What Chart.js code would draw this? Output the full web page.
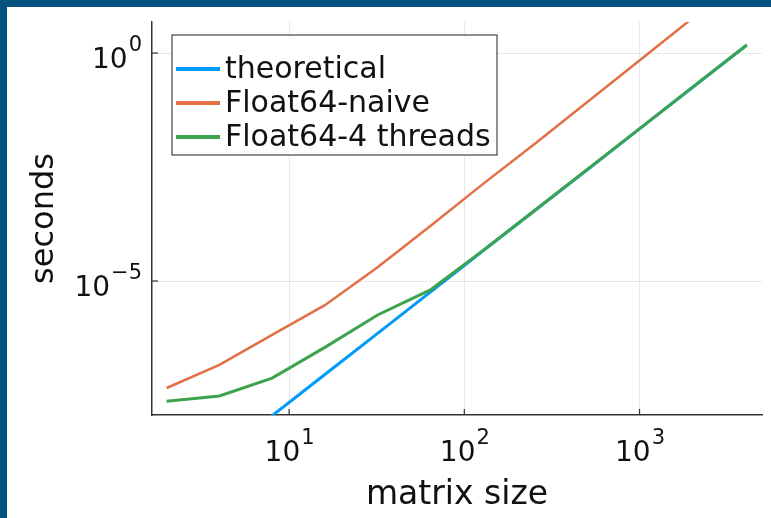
<!DOCTYPE html>
<html>
<head>
<meta charset="utf-8">
<script src="https://cdn.jsdelivr.net/npm/chart.js@4.4.0/dist/chart.umd.min.js"></script>
<style>
  html, body { margin: 0; padding: 0; background: #03517f; }
  #wrap { position: absolute; left: 7px; top: 7px; width: 764px; height: 511px; background: #fff; }
</style>
</head>
<body>
<div id="wrap"><canvas id="timingChart" width="764" height="511"></canvas></div>
<script>
// matrix sizes (n x n)
const matrixSizes = [2, 4, 8, 16, 32, 64, 128, 256, 512, 1024, 2048, 4096];
// seconds
const theoretical = [1.74e-10, 1.39e-9, 1.11e-8, 8.9e-8, 7.1e-7, 5.7e-6, 4.6e-5, 3.66e-4, 2.9e-3, 2.34e-2, 0.187, 1.5];
const float64Naive = [4.5e-8, 1.45e-7, 6.6e-7, 2.95e-6, 2.0e-5, 1.6e-4, 1.35e-3, 1.07e-2, 8.9e-2, 0.74, 6.2];
const float64Threads = [2.3e-8, 3.0e-8, 7.4e-8, 3.5e-7, 1.8e-6, 6.4e-6, 4.7e-5, 3.7e-4, 2.95e-3, 2.35e-2, 0.19, 1.5];
const seriesNames = ['theoretical', 'Float64-naive', 'Float64-4 threads'];
const xTicks = [10, 100, 1000];
const yTicks = [1e-5, 1];

const FONT = "'DejaVu Sans', sans-serif";

function exponentOf(v) {
    return String(Math.round(Math.log10(v))).replace('-', '\u2212');
}

function toPoints(values) {
    return values.map((v, i) => ({ x: matrixSizes[i], y: v }));
}

// draws "10" with a raised exponent; anchor is 'center' or 'right'
function drawPower(ctx, v, x, baseY, anchor) {
    const base = '10', exp = exponentOf(v);
    ctx.font = '28px ' + FONT;
    const wb = ctx.measureText(base).width;
    ctx.font = '21px ' + FONT;
    const we = ctx.measureText(exp).width;
    const start = anchor === 'center' ? x - (wb + we) / 2 : x - wb - we;
    ctx.font = '28px ' + FONT;
    ctx.fillText(base, start, baseY);
    ctx.font = '21px ' + FONT;
    ctx.fillText(exp, start + wb + 1, baseY - 17);
}

// tick marks pointing into the plot, plus the power-of-ten labels
const logTicks = {
    id: 'logTicks',
    beforeDatasetsDraw(chart) {
        const { ctx, chartArea, scales } = chart;
        ctx.save();
        ctx.strokeStyle = '#333';
        ctx.lineWidth = 1.2;
        ctx.fillStyle = '#111';
        ctx.textBaseline = 'alphabetic';
        ctx.textAlign = 'left';
        xTicks.forEach(v => {
            const x = scales.x.getPixelForValue(v);
            ctx.beginPath();
            ctx.moveTo(x, chartArea.bottom);
            ctx.lineTo(x, chartArea.bottom - 6);
            ctx.stroke();
            drawPower(ctx, v, x, chartArea.bottom + 46, 'center');
        });
        yTicks.forEach(v => {
            const y = scales.y.getPixelForValue(v);
            ctx.beginPath();
            ctx.moveTo(chartArea.left, y);
            ctx.lineTo(chartArea.left + 6, y);
            ctx.stroke();
            drawPower(ctx, v, chartArea.left - 11, y + 15, 'right');
        });
        ctx.restore();
    }
};

// legend box inside the plot, top left
const boxLegend = {
    id: 'boxLegend',
    afterDraw(chart) {
        const { ctx, chartArea } = chart;
        const left = chartArea.left + 20, top = chartArea.top + 13;
        const w = 325, h = 120;
        ctx.save();
        ctx.fillStyle = '#fff';
        ctx.fillRect(left, top, w, h);
        ctx.strokeStyle = '#444';
        ctx.lineWidth = 1.2;
        ctx.strokeRect(left, top, w, h);
        ctx.font = '30px ' + FONT;
        ctx.textBaseline = 'middle';
        chart.data.datasets.forEach((ds, i) => {
            const y = top + 34 + i * 34;
            ctx.strokeStyle = ds.borderColor;
            ctx.lineWidth = 4;
            ctx.beginPath();
            ctx.moveTo(left + 4, y);
            ctx.lineTo(left + 48, y);
            ctx.stroke();
            ctx.fillStyle = '#111';
            ctx.fillText(ds.label, left + 53, y + 1);
        });
        ctx.restore();
    }
};

new Chart(document.getElementById('timingChart'), {
    type: 'line',
    data: {
        datasets: [{
            label: seriesNames[0],
            data: toPoints(theoretical),
            borderColor: '#009af9',
            borderWidth: 3,
            order: 3
        }, {
            label: seriesNames[1],
            data: toPoints(float64Naive),
            borderColor: '#e26f46',
            borderWidth: 2.5,
            order: 2
        }, {
            label: seriesNames[2],
            data: toPoints(float64Threads),
            borderColor: '#3da44d',
            borderWidth: 3,
            order: 1
        }]
    },
    options: {
        responsive: false,
        animation: false,
        layout: { padding: { top: 15, right: 9, left: 0, bottom: 0 } },
        elements: { point: { radius: 0 }, line: { tension: 0 } },
        plugins: { legend: { display: false }, tooltip: { enabled: false } },
        scales: {
            x: {
                type: 'logarithmic',
                min: 1.65,
                max: 5000,
                afterBuildTicks: s => { s.ticks = xTicks.map(v => ({ value: v })); },
                afterFit: s => { s.height = 103; s.paddingLeft = 0; s.paddingRight = 0; },
                ticks: { display: false },
                grid: { color: 'rgba(0,0,0,0.09)', drawTicks: false },
                border: { color: '#333', width: 1.5 },
                title: {
                    display: true,
                    text: 'matrix size',
                    color: '#111',
                    font: { family: FONT, size: 33 },
                    padding: { bottom: 3 }
                }
            },
            y: {
                type: 'logarithmic',
                min: 1.15e-8,
                max: 4.8,
                afterBuildTicks: s => { s.ticks = yTicks.map(v => ({ value: v })); },
                afterFit: s => { s.width = 145; s.paddingTop = 0; s.paddingBottom = 0; },
                ticks: { display: false },
                grid: { color: 'rgba(0,0,0,0.09)', drawTicks: false },
                border: { color: '#333', width: 1.5 },
                title: {
                    display: true,
                    text: 'seconds',
                    color: '#111',
                    font: { family: FONT, size: 32 },
                    padding: { top: 18 }
                }
            }
        }
    },
    plugins: [logTicks, boxLegend]
});
</script>
</body>
</html>
